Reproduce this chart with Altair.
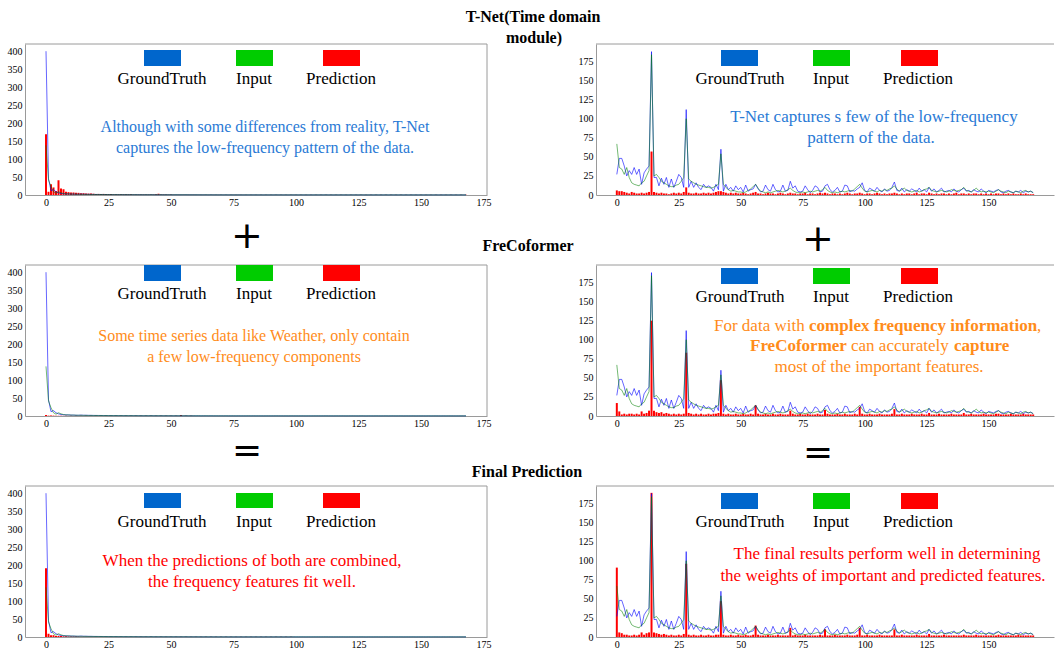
import altair as alt
import pandas as pd

N = 169
xs = list(range(N))

# ---------------- left column (Weather-like spectrum) ----------------
left_gt = [400, 45, 12, 15, 9, 6, 4, 3.5, 3, 3,
           2.5, 2.5, 2, 2, 2.5, 2, 2, 1.8, 1.8, 1.6,
           1.5, 1.5, 1.4, 1.4, 1.3, 1.3, 1.2, 1.2, 1.2, 1.1,
           1.1, 1.1, 1, 1, 1, 1, 1, 1, 0.9, 0.9,
           0.9, 0.9, 1, 0.9, 0.8, 0.8, 0.9, 0.8, 0.8, 0.8,
           0.8, 0.7, 0.8, 0.8, 0.7, 0.7, 0.8, 0.7, 0.7, 0.7,
           0.7, 0.7, 0.6, 0.7, 0.6, 0.6, 0.7, 0.6, 0.6, 0.6,
           0.6, 0.6, 0.6, 0.5, 0.6, 0.5, 0.5, 0.6, 0.5, 0.5,
           0.5, 0.5, 0.5, 0.6, 0.5, 0.5, 0.5, 0.5, 0.5, 0.5,
           0.5, 0.5, 0.6, 0.5, 0.5, 0.5, 0.5, 0.4, 0.5, 0.5,
           0.5, 0.5, 0.5, 0.5, 0.4, 0.5, 0.5, 0.5, 0.5, 0.5,
           0.5, 0.5, 0.6, 0.5, 0.5, 0.4, 0.5, 0.5, 0.5, 0.5,
           0.4, 0.5, 0.5, 0.5, 0.5, 0.4, 0.5, 0.5, 0.4, 0.5,
           0.5, 0.4, 0.5, 0.5, 0.4, 0.5, 0.5, 0.4, 0.5, 0.5,
           0.4, 0.5, 0.5, 0.4, 0.5, 0.4, 0.5, 0.5, 0.4, 0.5,
           0.4, 0.5, 0.4, 0.5, 0.4, 0.4, 0.5, 0.4, 0.4, 0.5,
           0.4, 0.4, 0.5, 0.4, 0.4, 0.4, 0.4, 0.4, 0.4]
left_inp = [138, 42, 23, 9, 5, 9, 6, 4, 3, 3,
            2.5, 2.5, 2.2, 2, 2, 1.8, 1.8, 1.6, 1.6, 1.5,
            1.5, 1.4, 1.4, 1.3, 1.3, 1.2, 1.2, 1.2, 1.1, 1.1,
            1.1, 1, 1, 1, 1, 1, 0.9, 0.9, 0.9, 0.9,
            0.9, 0.8, 0.9, 0.8, 0.8, 0.9, 0.8, 0.8, 0.7, 0.8,
            0.7, 0.8, 0.7, 0.7, 0.7, 0.8, 0.7, 0.7, 0.6, 0.7,
            0.6, 0.7, 0.6, 0.6, 0.7, 0.6, 0.6, 0.6, 0.6, 0.5,
            0.6, 0.5, 0.6, 0.5, 0.5, 0.6, 0.5, 0.5, 0.5, 0.5,
            0.5, 0.6, 0.5, 0.5, 0.5, 0.5, 0.5, 0.4, 0.5, 0.5,
            0.5, 0.5, 0.5, 0.5, 0.5, 0.4, 0.5, 0.5, 0.6, 0.5,
            0.5, 0.4, 0.5, 0.5, 0.5, 0.5, 0.4, 0.5, 0.5, 0.5,
            0.5, 0.5, 0.5, 0.4, 0.5, 0.5, 0.5, 0.4, 0.5, 0.5,
            0.5, 0.4, 0.5, 0.5, 0.4, 0.5, 0.6, 0.5, 0.4, 0.5,
            0.4, 0.5, 0.5, 0.4, 0.5, 0.4, 0.5, 0.4, 0.5, 0.5,
            0.5, 0.4, 0.5, 0.4, 0.4, 0.5, 0.4, 0.5, 0.4, 0.4,
            0.5, 0.4, 0.4, 0.5, 0.4, 0.5, 0.4, 0.4, 0.4, 0.4,
            0.4, 0.5, 0.4, 0.4, 0.4, 0.4, 0.5, 0.4, 0.4]
left_pred_tnet = [169, 9, 30, 21, 11, 41, 18, 16, 9, 8,
                  7, 7, 6, 6, 5, 5, 4, 4, 4, 3.5,
                  3, 3, 3, 3, 2.5, 2.5, 2.5, 2, 2, 2,
                  2, 2, 2, 2, 2, 1.5, 1.5, 1.5, 1.5, 1.5,
                  1.5, 1.5, 1.5, 1.5, 2, 3.5, 1.5, 1.5, 1.2, 1.2,
                  1.2, 1, 1, 1, 1, 1, 1, 1, 1, 1,
                  0.8, 0.8, 0.8, 0.8, 0.8, 0.8, 0.8, 0.8, 0.8, 0.8,
                  0.7, 0.7, 0.7, 0.7, 0.7, 0.7, 0.7, 0.7, 0.7, 0.7,
                  0.6, 0.6, 0.6, 0.6, 0.6, 0.6, 0.6, 0.6, 0.6, 0.6,
                  0.6, 0.6, 0.6, 0.6, 0.6, 0.6, 0.6, 0.6, 0.6, 0.6,
                  0.5, 0.5, 0.5, 0.5, 0.5, 0.5, 0.5, 0.5, 0.5, 0.5,
                  0.5, 0.5, 0.5, 0.5, 0.5, 0.5, 0.5, 0.5, 0.5, 0.5,
                  0.5, 0.5, 0.5, 0.5, 0.5, 0.5, 0.5, 0.5, 0.5, 0.5,
                  0.4, 0.4, 0.4, 0.4, 0.4, 0.4, 0.4, 0.4, 0.4, 0.4,
                  0.4, 0.4, 0.4, 0.4, 0.4, 0.4, 0.4, 0.4, 0.4, 0.4,
                  0.4, 0.4, 0.4, 0.4, 0.4, 0.4, 0.4, 0.4, 0.4, 0.4,
                  0.4, 0.4, 0.4, 0.4, 0.4, 0.4, 0.4, 0.4, 0.4]
left_pred_freco = [3, 1, 1.5, 1, 0.8, 0.6, 0.5, 0.5, 0.5, 0.5,
                   0.4, 0.4, 0.4, 0.4, 0.4, 0.4, 0.4, 0.4, 0.4, 0.4,
                   0.4, 0.4, 0.4, 0.4, 0.4, 0.4, 0.4, 0.4, 0.4, 0.4,
                   0.4, 0.4, 0.4, 0.4, 0.4, 0.4, 0.4, 0.4, 0.4, 0.4,
                   0.4, 0.4, 0.4, 0.4, 0.4, 0.4, 0.4, 0.4, 0.4, 0.4,
                   0.4, 0.4, 0.4, 0.4, 2.5, 0.4, 0.4, 0.4, 0.4, 0.4,
                   0.3, 0.3, 0.3, 0.3, 0.3, 0.3, 0.3, 0.3, 0.3, 0.3,
                   0.3, 0.3, 0.3, 0.3, 0.3, 0.3, 0.3, 0.3, 0.3, 0.3,
                   0.3, 0.3, 0.3, 0.3, 0.3, 0.3, 0.3, 0.3, 0.3, 0.3,
                   0.3, 0.3, 0.3, 0.3, 0.3, 0.3, 0.3, 0.3, 0.3, 0.3,
                   0.3, 0.3, 0.3, 0.3, 0.3, 0.3, 0.3, 0.3, 0.3, 0.3,
                   0.3, 0.3, 0.3, 0.3, 0.3, 0.3, 0.3, 0.3, 0.3, 0.3,
                   0.3, 0.3, 0.3, 0.3, 0.3, 0.3, 0.3, 0.3, 0.3, 0.3,
                   0.3, 0.3, 0.3, 0.3, 0.3, 0.3, 0.3, 0.3, 0.3, 0.3,
                   0.3, 0.3, 0.3, 0.3, 0.3, 0.3, 0.3, 0.3, 0.3, 0.3,
                   0.3, 0.3, 0.3, 0.3, 0.3, 0.3, 0.3, 0.3, 0.3, 0.3,
                   0.3, 0.3, 0.3, 0.3, 0.3, 0.3, 0.3, 0.3, 0.3]
left_pred_final = [191, 9, 5, 5, 3, 3, 2.5, 2, 2, 1.5,
                   1.5, 1.5, 1.2, 1.2, 1, 1, 1, 1, 0.9, 0.9,
                   0.8, 0.8, 0.8, 0.8, 0.7, 0.7, 0.7, 0.7, 0.7, 0.7,
                   0.6, 0.6, 0.6, 0.6, 0.6, 0.6, 0.6, 0.6, 0.6, 0.6,
                   0.5, 0.5, 0.5, 0.5, 0.5, 0.5, 0.5, 0.5, 0.5, 0.5,
                   0.5, 0.5, 0.5, 0.5, 0.5, 0.5, 0.5, 0.5, 0.5, 0.5,
                   0.4, 0.4, 0.4, 0.4, 0.4, 0.4, 0.4, 0.4, 0.4, 0.4,
                   0.4, 0.4, 0.4, 0.4, 0.4, 0.4, 0.4, 0.4, 0.4, 0.4,
                   0.4, 0.4, 0.4, 0.4, 0.4, 0.4, 0.4, 0.4, 0.4, 0.4,
                   0.4, 0.4, 0.4, 0.4, 0.4, 0.4, 0.4, 0.4, 0.4, 0.4,
                   0.3, 0.3, 0.3, 0.3, 0.3, 0.3, 0.3, 0.3, 0.3, 0.3,
                   0.3, 0.3, 0.3, 0.3, 0.3, 0.3, 0.3, 0.3, 0.3, 0.3,
                   0.3, 0.3, 0.3, 0.3, 0.3, 0.3, 0.3, 0.3, 0.3, 0.3,
                   0.3, 0.3, 0.3, 0.3, 0.3, 0.3, 0.3, 0.3, 0.3, 0.3,
                   0.3, 0.3, 0.3, 0.3, 0.3, 0.3, 0.3, 0.3, 0.3, 0.3,
                   0.3, 0.3, 0.3, 0.3, 0.3, 0.3, 0.3, 0.3, 0.3, 0.3,
                   0.3, 0.3, 0.3, 0.3, 0.3, 0.3, 0.3, 0.3, 0.3]

# ---------------- right column (periodic spectrum) ----------------
right_gt = [27, 48, 48, 38, 25, 32, 27, 36, 27, 34,
            14, 29, 34, 38, 188, 23, 23, 12, 22, 14,
            23, 10, 21, 10, 18, 27, 23, 10, 112, 10,
            18, 10, 16, 10, 7, 14, 10, 12, 10, 5,
            14, 7, 60, 5, 14, 7, 10, 5, 12, 7,
            10, 4, 13, 5, 7, 8, 14, 8, 4, 5,
            13, 7, 5, 14, 7, 4, 5, 13, 5, 6,
            18, 9, 12, 5, 4, 5, 12, 7, 3, 6,
            12, 10, 4, 5, 12, 14, 7, 4, 6, 10,
            4, 5, 13, 12, 4, 6, 5, 8, 10, 16,
            6, 4, 9, 7, 5, 10, 6, 4, 8, 5,
            6, 10, 17, 6, 5, 9, 4, 7, 5, 8,
            6, 4, 9, 5, 7, 4, 10, 5, 8, 4,
            6, 9, 4, 5, 6, 4, 8, 5, 4, 7,
            9, 5, 6, 4, 7, 5, 4, 8, 5, 3,
            6, 5, 4, 6, 7, 4, 3, 5, 6, 4,
            3, 5, 4, 6, 3, 5, 4, 5, 3]
right_inp = [67, 36, 34, 27, 36, 23, 16, 14, 13, 12,
             16, 18, 25, 32, 184, 25, 27, 23, 18, 16,
             14, 12, 11, 11, 13, 14, 18, 23, 100, 21,
             18, 16, 14, 13, 12, 11, 10, 10, 9, 10,
             12, 14, 54, 14, 10, 7, 5, 6, 5, 4,
             4, 3, 4, 6, 8, 11, 14, 9, 5, 4,
             3, 4, 3, 4, 5, 6, 5, 4, 5, 7,
             9, 6, 4, 3, 3, 4, 3, 4, 5, 4,
             5, 6, 5, 7, 10, 6, 4, 3, 4, 3,
             4, 5, 4, 5, 6, 5, 8, 11, 14, 9,
             5, 4, 5, 6, 5, 4, 6, 5, 7, 6,
             8, 9, 12, 8, 5, 7, 9, 6, 5, 4,
             5, 6, 4, 5, 7, 8, 10, 6, 5, 4,
             5, 6, 5, 4, 5, 7, 6, 5, 6, 7,
             10, 6, 5, 4, 6, 9, 6, 4, 5, 4,
             5, 4, 3, 5, 7, 5, 4, 3, 5, 4,
             3, 5, 4, 3, 5, 6, 4, 5, 3]
right_pred_tnet = [6, 5, 5, 4, 3, 2, 4, 3, 2, 2,
                   3, 2, 3, 4, 57, 4, 3, 2, 3, 2,
                   2, 1, 2, 3, 2, 3, 2, 4, 10, 3,
                   2, 2, 3, 2, 2, 3, 2, 3, 2, 3,
                   4, 5, 5, 4, 3, 2, 3, 2, 3, 2,
                   2, 3, 2, 1, 2, 3, 4, 2, 2, 1,
                   2, 3, 2, 2, 1, 2, 3, 2, 1, 2,
                   3, 2, 2, 1, 2, 2, 3, 1, 2, 2,
                   1, 2, 3, 2, 3, 2, 1, 2, 2, 1,
                   2, 1, 2, 3, 2, 1, 2, 2, 3, 2,
                   1, 2, 2, 1, 2, 3, 2, 1, 2, 1,
                   2, 2, 3, 2, 1, 2, 1, 2, 2, 1,
                   2, 3, 1, 2, 2, 1, 3, 2, 1, 2,
                   1, 2, 2, 1, 2, 1, 2, 3, 1, 2,
                   2, 1, 2, 1, 2, 2, 1, 2, 1, 2,
                   1, 2, 1, 2, 2, 1, 2, 1, 2, 1,
                   2, 1, 1, 2, 1, 2, 1, 1, 1]
right_pred_freco = [17, 6, 2, 3, 2, 3, 3, 2, 3, 2,
                    6, 3, 4, 7, 125, 7, 5, 4, 5, 3,
                    4, 3, 2, 3, 2, 3, 2, 3, 83, 4,
                    3, 2, 3, 2, 3, 2, 2, 3, 2, 3,
                    3, 4, 47, 3, 2, 3, 2, 2, 3, 2,
                    2, 3, 2, 2, 3, 2, 14, 3, 2, 2,
                    3, 2, 2, 3, 2, 2, 3, 2, 2, 2,
                    7, 3, 2, 2, 3, 2, 2, 3, 2, 2,
                    2, 3, 2, 2, 8, 3, 2, 2, 2, 3,
                    2, 2, 3, 2, 2, 2, 3, 2, 12, 3,
                    2, 2, 3, 2, 2, 2, 3, 2, 2, 2,
                    2, 3, 9, 2, 2, 3, 2, 2, 2, 3,
                    2, 2, 2, 3, 2, 2, 4, 2, 2, 2,
                    3, 2, 2, 2, 2, 3, 2, 2, 2, 2,
                    4, 2, 2, 3, 2, 2, 2, 2, 3, 2,
                    2, 2, 2, 3, 3, 2, 2, 2, 2, 3,
                    2, 2, 2, 2, 3, 2, 2, 2, 2]
right_pred_final = [91, 6, 5, 3, 3, 2, 2, 3, 2, 3,
                    6, 3, 5, 6, 189, 6, 5, 4, 3, 4,
                    3, 2, 3, 2, 2, 3, 2, 4, 96, 3,
                    2, 3, 2, 2, 3, 2, 2, 3, 2, 2,
                    3, 3, 47, 3, 2, 2, 3, 2, 2, 3,
                    2, 2, 3, 2, 2, 3, 15, 3, 2, 2,
                    2, 3, 2, 2, 2, 3, 2, 2, 2, 2,
                    12, 2, 3, 2, 2, 2, 3, 2, 2, 2,
                    2, 2, 3, 2, 10, 2, 2, 2, 3, 2,
                    2, 2, 2, 3, 2, 2, 2, 3, 12, 2,
                    2, 3, 2, 2, 2, 2, 3, 2, 2, 2,
                    2, 2, 10, 2, 2, 3, 2, 2, 2, 2,
                    2, 3, 2, 2, 2, 2, 4, 2, 2, 2,
                    2, 2, 3, 2, 2, 2, 2, 2, 2, 2,
                    3, 2, 2, 2, 2, 3, 2, 2, 2, 2,
                    2, 2, 2, 2, 3, 2, 2, 2, 2, 2,
                    2, 2, 3, 2, 2, 2, 2, 2, 2]

legend_labels = ["GroundTruth", "Input", "Prediction"]
legend_colors = ["#0066CC", "#00CC00", "#FF0000"]
left_ticks = [0, 25, 50, 75, 100, 125, 150, 175]
right_ticks = [0, 25, 50, 75, 100, 125, 150]
left_yticks = [0, 50, 100, 150, 200, 250, 300, 350, 400]
right_yticks = [0, 25, 50, 75, 100, 125, 150, 175]

SERIF = "Liberation Serif"
GREY = "#9a9a9a"
BLUE_TXT = "#2a7ad5"
ORANGE_TXT = "#FF8C1A"
RED_TXT = "#FF0000"

LW, RW, H = 462, 458, 151
one = pd.DataFrame({"k": [0]})


def txt(s, x, y, size, color, weight="normal", align="center", font=SERIF):
    return alt.Chart(one).mark_text(
        text=s, font=font, fontSize=size, color=color, fontWeight=weight,
        align=align, baseline="middle"
    ).encode(x=alt.value(x), y=alt.value(y))


def rect(x0, x1, y0, y1, color):
    return alt.Chart(one).mark_rect(color=color).encode(
        x=alt.value(x0), x2=alt.value(x1), y=alt.value(y0), y2=alt.value(y1))


def legend(rect_x, label_x, y0, y1, ly):
    out = []
    for rx, lx, lab, col in zip(rect_x, label_x, legend_labels, legend_colors):
        out.append(rect(rx, rx + 37, y0, y1, col))
        out.append(txt(lab, lx, ly, 17, "black"))
    return out


LEFT_RECTS = [119, 211, 298]
LEFT_LABELS = [137, 229, 316]
RIGHT_RECTS = [125, 217, 305]
RIGHT_LABELS = [144, 235, 322]


def panel(gt, inp, pred, ymax, yticks, xticks, W, extras, right_border):
    df = pd.DataFrame({"x": xs, "gt": gt, "inp": inp, "pred": pred})
    xscale = alt.Scale(domain=[-8.4, 176.4], nice=False, zero=False)
    yscale = alt.Scale(domain=[0, ymax], nice=False)
    xaxis = alt.Axis(values=xticks, title="", grid=False, ticks=False,
                     domainColor=GREY, labelPadding=2, format="d",
                     labelFont=SERIF, labelFontSize=10, labelColor="black")
    yaxis = alt.Axis(values=yticks, title="", grid=False, ticks=False,
                     domainColor=GREY, labelPadding=3, format="d",
                     labelFont=SERIF, labelFontSize=10, labelColor="black")
    base = alt.Chart(df)
    bars = base.transform_calculate(
        x0="datum.x - 0.4", x1="datum.x + 0.4"
    ).mark_bar(color="#FF0000").encode(
        x=alt.X("x0:Q", scale=xscale, axis=xaxis),
        x2="x1:Q",
        y=alt.Y("pred:Q", scale=yscale, axis=yaxis),
        y2=alt.datum(0),
    )
    gline = base.mark_line(color="#0000FF", strokeWidth=1, opacity=0.6).encode(
        x=alt.X("x:Q", scale=xscale, axis=xaxis),
        y=alt.Y("gt:Q", scale=yscale, axis=yaxis),
    )
    iline = base.mark_line(color="#008000", strokeWidth=1, opacity=0.55).encode(
        x=alt.X("x:Q", scale=xscale, axis=xaxis),
        y=alt.Y("inp:Q", scale=yscale, axis=yaxis),
    )
    top = alt.Chart(one).mark_rule(color=GREY, strokeWidth=1).encode(
        x=alt.value(0), x2=alt.value(W), y=alt.value(0))
    layers = [bars, gline, iline, top]
    if right_border:
        layers.append(alt.Chart(one).mark_rule(color=GREY, strokeWidth=1).encode(
            x=alt.value(W), y=alt.value(0), y2=alt.value(H)))
    layers += extras
    return alt.layer(*layers).properties(width=W, height=H)


anchor = alt.Chart(one).mark_rule(strokeOpacity=0).encode(
    x=alt.value(-25), y=alt.value(-44), x2=alt.value(-24), y2=alt.value(-43))

# Row 1
ex11 = [anchor] + legend(LEFT_RECTS, LEFT_LABELS, 6, 22, 35) + [
    txt("Although with some differences from reality, T-Net", 240, 83, 16, BLUE_TXT),
    txt("captures the low-frequency pattern of the data.", 240, 104, 16, BLUE_TXT),
    txt("T-Net(Time domain", 508, -27, 16, "black", weight="bold"),
    txt("module)", 509, -6, 16, "black", weight="bold"),
    txt("+", 222, 193, 38, "black", font="DejaVu Sans"),
]
ex12 = legend(RIGHT_RECTS, RIGHT_LABELS, 6, 22, 35) + [
    txt("T-Net captures s few of the low-frequency", 278, 73, 17, BLUE_TXT),
    txt("pattern of the data.", 275, 94, 17, BLUE_TXT),
    txt("+", 222, 196, 38, "black", font="DejaVu Sans"),
]
# Row 2
ex21 = legend(LEFT_RECTS, LEFT_LABELS, 0, 16, 29) + [
    txt("Some time series data like Weather, only contain", 229, 71, 16, ORANGE_TXT),
    txt("a few low-frequency components", 229, 92, 16, ORANGE_TXT),
    txt("FreCoformer", 503, -19, 16, "black", weight="bold"),
    txt("=", 222, 186, 36, "black", font="DejaVu Sans"),
]
ex22 = legend(RIGHT_RECTS, RIGHT_LABELS, 3, 19, 32) + [
    txt("For data with", 118, 61, 17, ORANGE_TXT, align="left"),
    txt("complex frequency information", 213, 61, 17, ORANGE_TXT, weight="bold", align="left"),
    txt(",", 441, 61, 17, ORANGE_TXT, align="left"),
    txt("FreCoformer", 154, 81, 17, ORANGE_TXT, weight="bold", align="left"),
    txt("can accurately", 255, 81, 17, ORANGE_TXT, align="left"),
    txt("capture", 358, 81, 17, ORANGE_TXT, weight="bold", align="left"),
    txt("most of the important features.", 283, 102, 17, ORANGE_TXT),
    txt("=", 222, 188, 36, "black", font="DejaVu Sans"),
]
# Row 3
ex31 = legend(LEFT_RECTS, LEFT_LABELS, 7, 22, 36) + [
    txt("When the predictions of both are combined,", 227, 75, 17, RED_TXT),
    txt("the frequency features fit well.", 227, 96, 17, RED_TXT),
    txt("Final Prediction", 502, -14, 16, "black", weight="bold"),
]
ex32 = legend(RIGHT_RECTS, RIGHT_LABELS, 7, 23, 36) + [
    txt("The final results perform well in determining", 291, 68, 17, RED_TXT),
    txt("the weights of important and predicted features.", 287, 90, 17, RED_TXT),
]

p11 = panel(left_gt, left_inp, left_pred_tnet, 420, left_yticks, left_ticks, LW, ex11, True)
p12 = panel(right_gt, right_inp, right_pred_tnet, 198, right_yticks, right_ticks, RW, ex12, False)
p21 = panel(left_gt, left_inp, left_pred_freco, 420, left_yticks, left_ticks, LW, ex21, True)
p22 = panel(right_gt, right_inp, right_pred_freco, 198, right_yticks, right_ticks, RW, ex22, False)
p31 = panel(left_gt, left_inp, left_pred_final, 420, left_yticks, left_ticks, LW, ex31, True)
p32 = panel(right_gt, right_inp, right_pred_final, 198, right_yticks, right_ticks, RW, ex32, False)

chart = alt.concat(
    p11, p12, p21, p22, p31, p32,
    columns=2,
    spacing={"row": 70, "column": 109},
    bounds="flush",
).properties(
    padding=0, background="white"
).configure_view(
    stroke=None
).configure_axis(
    labelFont=SERIF, labelFontSize=10, labelColor="black"
)

chart.save("out.html", embed_options={"renderer": "svg", "actions": False})
